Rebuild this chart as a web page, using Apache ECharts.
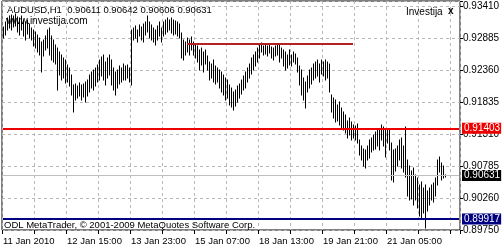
<!DOCTYPE html>
<html><head><meta charset="utf-8">
<script src="https://cdn.jsdelivr.net/npm/echarts@6/dist/echarts.min.js"></script>
<style>html,body{margin:0;padding:0;background:#fff}#c{width:503px;height:250px}</style>
</head><body><div id="c"></div>
<script>
const highs = [
.9306,.9315,.9321,.9325,.9326,.9325,.9328,.9323,.9321,.9325,.9318,.9315,.9318,.9311,.9305,.9302,
.9298,.9293,.9288,.9282,.9285,.9292,.9302,.9305,.9292,.9285,.9277,.9272,.9265,.9260,.9255,.9252,
.9244,.9239,.9228,.9211,.9213,.9209,.9214,.9211,.9213,.9216,.9219,.9228,.9232,.9236,.9239,.9244,
.9252,.9257,.9260,.9249,.9255,.9260,.9252,.9239,.9232,.9236,.9242,.9239,.9246,.9242,.9244,.9239,
.9302,.9305,.9308,.9302,.9310,.9306,.9311,.9315,.9325,.9315,.9310,.9305,.9302,.9308,.9315,.9305,
.9315,.9318,.9321,.9318,.9321,.9318,.9316,.9315,.9311,.9297,.9285,.9282,.9288,.9285,.9290,.9282,
.9279,.9275,.9269,.9272,.9265,.9269,.9259,.9249,.9246,.9252,.9242,.9239,.9236,.9232,.9228,.9223,
.9219,.9211,.9206,.9200,.9203,.9209,.9213,.9219,.9226,.9232,.9239,.9246,.9255,.9260,.9265,.9272,
.9279,.9280,.9275,.9277,.9275,.9277,.9274,.9272,.9275,.9277,.9277,.9272,.9269,.9265,.9260,.9269,
.9260,.9265,.9262,.9255,.9242,.9236,.9223,.9216,.9226,.9236,.9239,.9246,.9249,.9252,.9246,.9252,
.9249,.9252,.9249,.9246,.9195,.9190,.9186,.9178,.9183,.9173,.9167,.9162,.9153,.9157,.9150,.9145,
.9144,.9147,.9121,.9112,.9107,.9104,.9112,.9121,.9124,.9129,.9134,.9137,.9140,.9145,.9142,.9137,
.9140,.9137,.9116,.9104,.9107,.9112,.9121,.9124,.9112,.9142,.9088,.9079,.9071,.9075,.9063,.9058,
.9047,.9052,.9042,.9047,.9038,.9042,.9047,.9050,.9058,.9088,.9093,.9084,.9079,.90642
];
const lows = [
.9288,.9293,.9302,.9305,.9302,.9306,.9308,.9298,.9293,.9302,.9292,.9285,.9295,.9288,.9285,.9275,
.9272,.9265,.9260,.9232,.9259,.9269,.9272,.9260,.9252,.9249,.9246,.9203,.9228,.9219,.9223,.9214,
.9216,.9209,.9195,.9167,.9186,.9190,.9193,.9186,.9191,.9183,.9193,.9200,.9206,.9203,.9209,.9216,
.9219,.9226,.9219,.9211,.9223,.9228,.9211,.9203,.9195,.9206,.9213,.9216,.9219,.9219,.9223,.9216,
.9211,.9285,.9288,.9282,.9292,.9285,.9282,.9293,.9298,.9288,.9285,.9282,.9277,.9285,.9292,.9282,
.9292,.9295,.9298,.9302,.9297,.9293,.9295,.9292,.9288,.9255,.9252,.9260,.9265,.9260,.9269,.9260,
.9255,.9249,.9236,.9244,.9232,.9246,.9236,.9219,.9223,.9216,.9213,.9216,.9206,.9200,.9195,.9186,
.9190,.9178,.9175,.9170,.9177,.9183,.9190,.9196,.9203,.9206,.9216,.9223,.9229,.9236,.9242,.9249,
.9255,.9265,.9260,.9262,.9259,.9264,.9255,.9252,.9259,.9260,.9249,.9255,.9242,.9236,.9239,.9244,
.9242,.9249,.9246,.9232,.9211,.9195,.9186,.9173,.9200,.9206,.9213,.9219,.9223,.9226,.9216,.9229,
.9226,.9219,.9223,.9200,.9167,.9157,.9150,.9153,.9145,.9140,.9137,.9132,.9124,.9129,.9121,.9124,
.9121,.9117,.9096,.9088,.9079,.9075,.9088,.9091,.9101,.9104,.9107,.9112,.9104,.9121,.9112,.9093,
.9117,.9104,.9055,.9052,.9071,.9079,.9088,.9075,.9068,.9061,.9030,.9022,.9025,.9014,.9022,.9009,
.8996,.8992,.9002,.8977,.9005,.9014,.9022,.9019,.9030,.9047,.9068,.9055,.9058,.90606
];
const timeLabels = ['11 Jan 2010','12 Jan 15:00','13 Jan 23:00','15 Jan 07:00','18 Jan 13:00','19 Jan 21:00','21 Jan 05:00'];
const priceLabels = ['0.89750','0.90260','0.90785','0.91310','0.91835','0.92360','0.92885','0.93410'];
const priceMin = 0.89735, priceMax = 0.93492, priceStep = 0.00525;
const slotCount = 229;
const labelEvery = 32, gridEvery = 16;
const resistanceLevel = 0.91403, supportLevel = 0.89917, lastPrice = 0.90631;
const shortLevel = 0.92795, shortFrom = 92, shortTo = 175;
const ohlcText = ['0.90611','0.90642','0.90606','0.90631'];

const cats = [];
for (let i = 0; i < slotCount; i++) cats.push(String(i));
const barData = highs.map((h, i) => [String(i), lows[i], h]);

const FONT = '"Liberation Sans", Arial, sans-serif';
function boxLabel(val, bg) {
  return {show: true, position: 'end', distance: 3, formatter: val.toFixed(5), color: '#fff', backgroundColor: bg,
    padding: [1, 1, 0, 2], lineHeight: 10, fontSize: 10, fontFamily: FONT};
}
function fullLine(val, color, width, lbl) {
  return [{coord: [cats[0], val], lineStyle: {color: color, width: width, type: 'solid'}, label: lbl},
          {coord: [cats[slotCount - 1], val]}];
}
const chart = echarts.init(document.getElementById('c'), null, {renderer: 'canvas'});
chart.setOption({
  animation: false,
  backgroundColor: '#fff',
  grid: {left: 2, right: 43, top: 1, bottom: 20, show: true, borderColor: '#000', borderWidth: 1, backgroundColor: 'transparent'},
  xAxis: {
    type: 'category', data: cats, boundaryGap: true,
    axisLine: {show: false},
    axisTick: {show: true, interval: gridEvery - 1, length: 4, lineStyle: {color: '#000'}},
    splitLine: {show: true, interval: gridEvery - 1, lineStyle: {color: '#b8b8b8', type: [3, 3], width: 1}},
    axisLabel: {
      interval: function (idx) { return idx % labelEvery === 0; },
      formatter: function (v, idx) { return timeLabels[idx / labelEvery] || ''; },
      align: 'left', margin: 6, color: '#000', fontSize: 9.5, fontFamily: FONT
    }
  },
  yAxis: {
    type: 'value', position: 'right', min: priceMin, max: priceMax, interval: priceStep,
    axisLine: {show: false},
    axisTick: {show: true, length: 3, lineStyle: {color: '#000'}},
    splitLine: {show: true, lineStyle: {color: '#b8b8b8', type: [3, 3], width: 1}},
    axisLabel: {
      margin: 3, color: '#000', fontSize: 10, fontFamily: FONT, hideOverlap: false,
      formatter: function (v) {
        const k = (v - priceMin) / priceStep;
        if (Math.abs(k - Math.round(k)) > 0.02) return '';
        return priceLabels[Math.round(k)] || '';
      }
    }
  },
  series: [{
    type: 'custom',
    data: barData,
    encode: {x: 0, y: [1, 2]},
    clip: true,
    renderItem: function (params, api) {
      const a = api.coord([api.value(0), api.value(1)]);
      const b = api.coord([api.value(0), api.value(2)]);
      const px = Math.round(a[0]) + 0.5;
      return {type: 'line', shape: {x1: px, y1: Math.round(a[1]) + 0.5, x2: px, y2: Math.round(b[1]) - 0.5},
        style: {stroke: '#000', lineWidth: 1}};
    },
    markLine: {
      silent: true, symbol: 'none', animation: false, precision: 5,
      data: [
        fullLine(lastPrice, '#c0c0c0', 1, boxLabel(lastPrice, '#000')),
        [{coord: [cats[shortFrom], shortLevel], lineStyle: {color: '#b22222', width: 2, type: 'solid'}, label: {show: false}},
         {coord: [cats[shortTo], shortLevel]}],
        fullLine(resistanceLevel, '#ee0000', 2, boxLabel(resistanceLevel, '#ee0000')),
        fullLine(supportLevel, '#000080', 2, boxLabel(supportLevel, '#000080'))
      ]
    }
  }],
  graphic: [
    {type: 'text', left: 7, top: 5, z: 100, style: {text: 'AUDUSD,H1  ' + ohlcText.join(' '), fill: '#000', font: '9.5px ' + FONT}},
    {type: 'text', left: 6, top: 16, z: 100, style: {text: 'www.investija.com', fill: '#000', font: '10px ' + FONT}},
    {type: 'text', left: 406, top: 7, z: 100, style: {text: 'Investija', fill: '#000', font: '10px ' + FONT}},
    {type: 'text', left: 448, top: 6, z: 100, style: {text: 'x', fill: '#000', font: 'bold 10px ' + FONT}},
    {type: 'text', left: 4, top: 220, z: 100, style: {text: 'ODL MetaTrader, © 2001-2009 MetaQuotes Software Corp.', fill: '#000', font: '9.5px ' + FONT}}
  ]
});
</script></body></html>
